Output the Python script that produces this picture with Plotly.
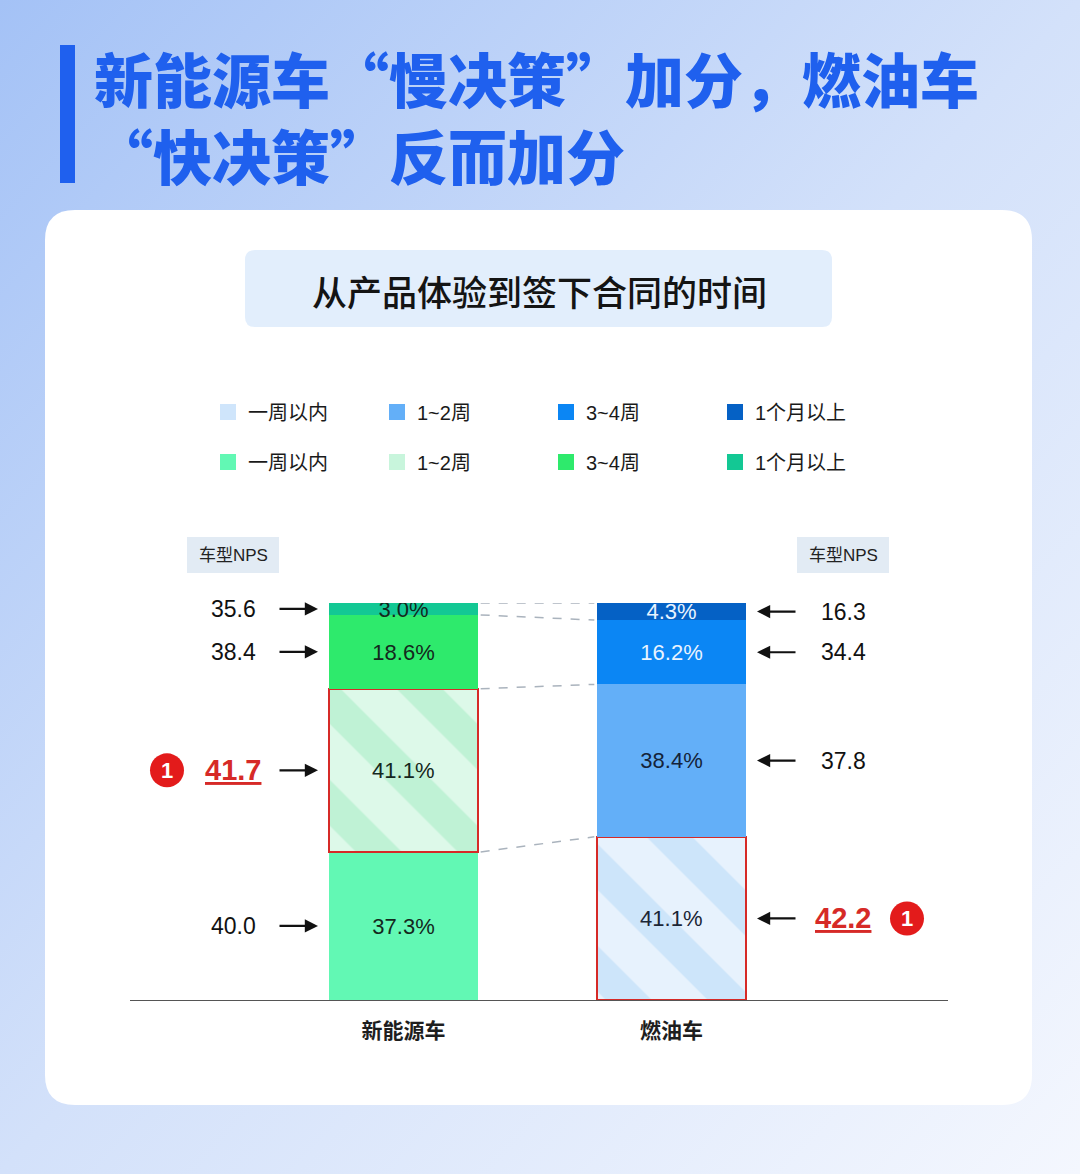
import base64
import plotly.graph_objects as go

# ---------------- data ----------------
categories = ["新能源车", "燃油车"]
periods = ["一周以内", "1~2周", "3~4周", "1个月以上"]
nev_share = [37.3, 41.1, 18.6, 3.0]      # % of NEV buyers, bottom -> top
ice_share = [41.1, 38.4, 16.2, 4.3]      # % of ICE buyers, bottom -> top
nev_nps = [40.0, 41.7, 38.4, 35.6]
ice_nps = [42.2, 37.8, 34.4, 16.3]
nev_highlight = "1~2周"
ice_highlight = "一周以内"

title_line1 = "新能源车“慢决策”加分，燃油车"
title_line2 = "“快决策”反而加分"
subtitle = "从产品体验到签下合同的时间"
nps_label = "车型NPS"

# ---------------- styles ----------------
nev_colors = ["#62f8b4", "#c8f5dc", "#2eea6c", "#13c894"]
ice_colors = ["#cfe5fb", "#63aff8", "#0b86f4", "#0561c5"]
nev_text = ["#14281d", "#14281d", "#14281d", "#14281d"]
ice_text = ["#1b2636", "#14233a", "#e8f3ff", "#e8f3ff"]
nev_hatch = ("#ddf9e9", "#bff2d5")
ice_hatch = ("#e7f2fd", "#cde5fa")
RED = "#d62a27"
BLUE_TITLE = "#1f60ee"
W, H = 1080, 1174
PL, PR, PT, PB = 130, 948, 603, 1000   # plot area in px
BAR_W = 0.556
X0_PX, UNIT_PX = 403.5, 268.0
CJK = "Noto Sans CJK SC"
LAT = "Liberation Sans, Noto Sans CJK SC"


def px2x(px):
    return (px - X0_PX) / UNIT_PX


def px2p(px):
    return (px - PL) / (PR - PL)


def py2p(py):
    return (PB - py) / (PB - PT)


def rrect(x0, y0, x1, y1, r):
    X = lambda v: f"{px2p(v):.5f}"
    Y = lambda v: f"{py2p(v):.5f}"
    return (f"M{X(x0+r)},{Y(y0)} L{X(x1-r)},{Y(y0)} Q{X(x1)},{Y(y0)} {X(x1)},{Y(y0+r)} "
            f"L{X(x1)},{Y(y1-r)} Q{X(x1)},{Y(y1)} {X(x1-r)},{Y(y1)} "
            f"L{X(x0+r)},{Y(y1)} Q{X(x0)},{Y(y1)} {X(x0)},{Y(y1-r)} "
            f"L{X(x0)},{Y(y0+r)} Q{X(x0)},{Y(y0)} {X(x0+r)},{Y(y0)} Z")


fig = go.Figure()


def add_stack(cat, shares, colors, tcolors, highlight, hatch, legend):
    for name, v, c, tc in zip(periods, shares, colors, tcolors):
        hl = name == highlight
        marker = dict(color=c, line=dict(width=2.5 if hl else 0, color=RED))
        if hl:
            marker["pattern"] = dict(shape="\\", size=72, solidity=0.45,
                                     bgcolor=hatch[0], fgcolor=hatch[1], fillmode="replace")
        fig.add_trace(go.Bar(
            x=[cat], y=[v], name=name, marker=marker, width=BAR_W,
            text=[f"{v:.1f}%"], textposition="inside", insidetextanchor="middle",
            textfont=dict(size=22, color=tc, family=LAT),
            showlegend=False, hoverinfo="skip"))
    # legend entries (solid swatches)
    for name, c in zip(periods, colors):
        fig.add_trace(go.Scatter(
            x=[cat], y=[None], mode="markers", name=name, legend=legend,
            marker=dict(symbol="square", size=20, color=c), hoverinfo="skip"))


add_stack(categories[0], nev_share, nev_colors, nev_text, nev_highlight, nev_hatch, "legend2")
add_stack(categories[1], ice_share, ice_colors, ice_text, ice_highlight, ice_hatch, "legend")

shapes = []
annotations = []

# background gradient
svg = ('<svg xmlns="http://www.w3.org/2000/svg" width="1080" height="1174">'
       '<defs><linearGradient id="g" x1="0" y1="0" x2="1" y2="1">'
       '<stop offset="0" stop-color="#a4c2f6"/><stop offset="0.5" stop-color="#d3e1fa"/>'
       '<stop offset="1" stop-color="#f4f7fe"/></linearGradient></defs>'
       '<rect width="1080" height="1174" fill="url(#g)"/></svg>')
src = "data:image/svg+xml;base64," + base64.b64encode(svg.encode()).decode()
images = [dict(source=src, xref="paper", yref="paper", x=px2p(0), y=py2p(0),
               sizex=W / (PR - PL), sizey=H / (PB - PT), xanchor="left", yanchor="top",
               sizing="stretch", layer="below")]


def note(text, px, py, size, color, family=LAT, weight=None, xanchor="center", align="center"):
    font = dict(size=size, color=color, family=family)
    if weight:
        font["weight"] = weight
    annotations.append(dict(text=text, xref="paper", yref="paper", x=px2p(px), y=py2p(py),
                            xanchor=xanchor, yanchor="middle", showarrow=False, font=font,
                            align=align))


# card, subtitle box, title bar, NPS boxes
shapes.append(dict(type="path", xref="paper", yref="paper", path=rrect(45, 210, 1032, 1105, 30),
                   fillcolor="white", line=dict(width=0), layer="below"))
shapes.append(dict(type="path", xref="paper", yref="paper", path=rrect(245, 250, 832, 327, 10),
                   fillcolor="#e2eefc", line=dict(width=0), layer="below"))
shapes.append(dict(type="rect", xref="paper", yref="paper", x0=px2p(60), x1=px2p(75),
                   y0=py2p(45), y1=py2p(183), fillcolor=BLUE_TITLE, line=dict(width=0), layer="below"))
for cx in (233, 843):
    shapes.append(dict(type="rect", xref="paper", yref="paper", x0=px2p(cx - 46), x1=px2p(cx + 46),
                       y0=py2p(537), y1=py2p(573), fillcolor="#e2ebf4", line=dict(width=0), layer="below"))
    note(nps_label, cx, 555, 17, "#222")

# titles (one two-line block)
note(title_line1 + "<br>" + title_line2, 92, 116, 59, BLUE_TITLE, family=CJK, weight=900,
     xanchor="left", align="left")
note(subtitle, 539, 290, 35, "#141414", family=CJK, weight=500)


# connector dashed lines between segment boundaries
def cum(vals):
    out, s = [], 0
    for v in vals:
        s += v
        out.append(s)
    return out


nev_cum, ice_cum = cum(nev_share), cum(ice_share)
for a, b in zip(nev_cum, ice_cum):
    shapes.append(dict(type="line", xref="x", yref="y", x0=BAR_W / 2 + 0.01, x1=1 - BAR_W / 2 - 0.01,
                       y0=a, y1=b, line=dict(color="#aab3bd", width=1.5, dash="dash"), layer="above"))


# NPS labels with arrows
def seg_centers(vals):
    c, s = [], 0
    for v in vals:
        c.append(s + v / 2)
        s += v
    return c


def add_nps(shares, nps, highlight, side):
    centers = seg_centers(shares)
    for name, yc, val in zip(periods, centers, nps):
        if side == "left":
            head, tail_off, num_px, badge_px = 318, -40, 233, 167
        else:
            head, tail_off, num_px, badge_px = 757, 40, 843, 907
        annotations.append(dict(x=px2x(head), y=yc, xref="x", yref="y", text="", showarrow=True,
                                ax=tail_off, ay=0, arrowhead=2, arrowsize=1.2, arrowwidth=2.2,
                                arrowcolor="#111", standoff=0))
        if name == highlight:
            annotations.append(dict(x=px2x(num_px), y=yc, xref="x", yref="y", text=f"<b>{val:.1f}</b>",
                                    xanchor="center", yanchor="middle", showarrow=False,
                                    font=dict(size=29, color=RED, family=LAT, lineposition="under")))
            shapes.append(dict(type="circle", xref="x", yref="y", xsizemode="pixel", ysizemode="pixel",
                               xanchor=px2x(badge_px), yanchor=yc, x0=-17, x1=17, y0=-17, y1=17,
                               fillcolor="#e31b1b", line=dict(width=0)))
            annotations.append(dict(x=px2x(badge_px), y=yc, xref="x", yref="y", text="<b>1</b>",
                                    xanchor="center", yanchor="middle", showarrow=False,
                                    font=dict(size=22, color="white", family=LAT)))
        else:
            annotations.append(dict(x=px2x(num_px), y=yc, xref="x", yref="y", text=f"{val:.1f}",
                                    xanchor="center", yanchor="middle", showarrow=False,
                                    font=dict(size=23, color="#111", family=LAT)))


add_nps(nev_share, nev_nps, nev_highlight, "left")
add_nps(ice_share, ice_nps, ice_highlight, "right")

legend_common = dict(orientation="h", xref="paper", yref="paper", xanchor="left", yanchor="middle",
                     font=dict(size=20, color="#1a1a1a", family=LAT), entrywidth=124,
                     entrywidthmode="pixels", bgcolor="rgba(0,0,0,0)", traceorder="normal",
                     itemclick=False, itemdoubleclick=False)

fig.update_layout(
    width=W, height=H, barmode="stack", bargap=0,
    margin=dict(l=PL, r=W - PR, t=PT, b=H - PB, pad=0),
    paper_bgcolor="#cfdef9", plot_bgcolor="rgba(0,0,0,0)",
    showlegend=True,
    legend=dict(x=px2p(208), y=py2p(412), **legend_common),
    legend2=dict(x=px2p(208), y=py2p(462), **legend_common),
    xaxis=dict(range=[px2x(PL), px2x(PR)], showgrid=False, zeroline=False, showline=True,
               linecolor="#555", linewidth=1, ticks="", ticklabelstandoff=12,
               tickfont=dict(size=21, color="#1e1e1e", family=CJK, weight=700), fixedrange=True),
    yaxis=dict(range=[0, 100], visible=False, fixedrange=True),
    uniformtext=dict(minsize=22, mode="show"),
    shapes=shapes, annotations=annotations, images=images,
)

fig.write_html("out.html", config={"displayModeBar": False},
               post_script="document.body.style.margin='0px';")
